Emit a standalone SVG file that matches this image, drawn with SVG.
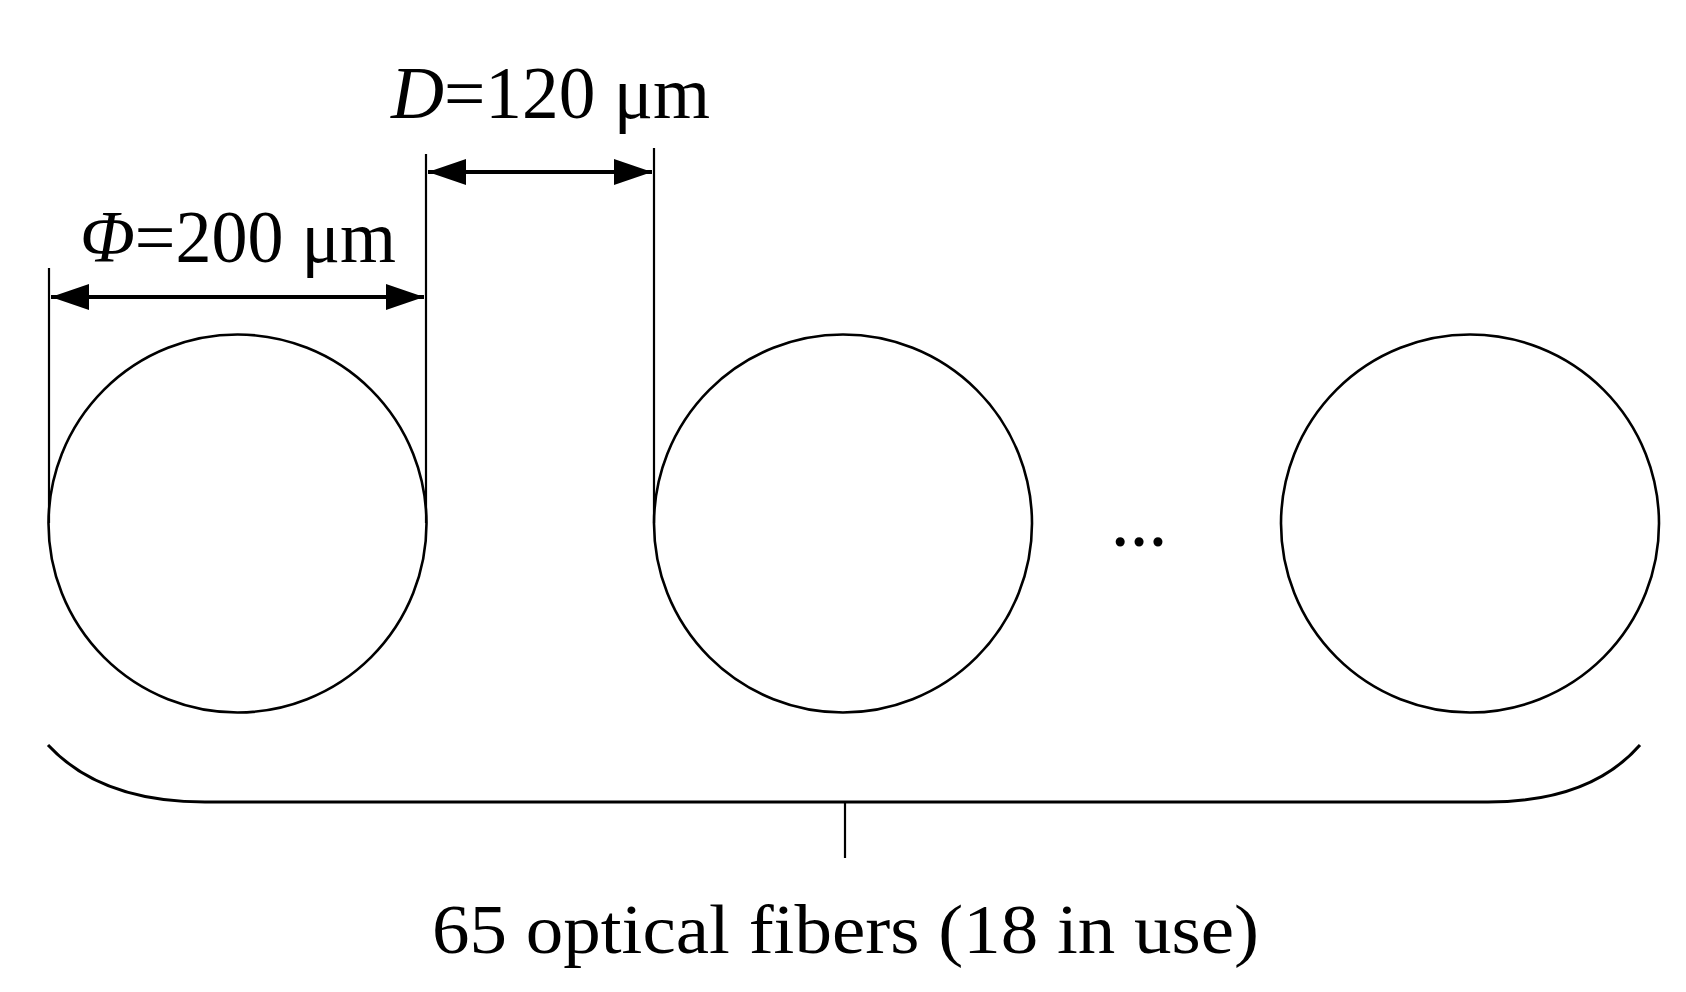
<svg xmlns="http://www.w3.org/2000/svg" width="1686" height="992" viewBox="0 0 1686 992">
<style>
.fiber{fill:none;stroke:#000;stroke-width:2.6}
.ext{stroke:#000;stroke-width:2.2;fill:none}
.dim{stroke:#000;stroke-width:4;fill:none}
.br{stroke:#000;stroke-width:3;fill:none}
.lbl{font-family:"Liberation Serif","Times New Roman",serif;fill:#000}
</style>
<defs>
<marker id="ah" viewBox="0 0 38 26" refX="38" refY="13" markerWidth="38" markerHeight="26" markerUnits="userSpaceOnUse" orient="auto-start-reverse">
<path d="M0,0 L38,13 L0,26 Z" fill="#000"/>
</marker>
</defs>
<rect width="1686" height="992" fill="#fff"/>
<g id="fiber1"><circle class="fiber" cx="237.5" cy="523.5" r="189"/></g>
<g id="fiber2"><circle class="fiber" cx="843" cy="523.5" r="189"/></g>
<g id="fiber3"><circle class="fiber" cx="1470" cy="523.5" r="189"/></g>
<g id="ellipsis"><text class="lbl" x="1139" y="546" font-size="56" font-weight="bold" text-anchor="middle">…</text></g>
<g id="connectors">
<line class="ext" x1="49" y1="268" x2="49" y2="523"/>
<line class="ext" x1="426" y1="154" x2="426" y2="523"/>
<line class="ext" x1="654" y1="148" x2="654" y2="523"/>
<line class="dim" x1="51" y1="297" x2="424" y2="297" marker-start="url(#ah)" marker-end="url(#ah)"/>
<line class="dim" x1="428" y1="172" x2="652" y2="172" marker-start="url(#ah)" marker-end="url(#ah)"/>
<path class="br" d="M48,745 C85,785 140,802 205,802 L1488,802 C1553,802 1605,785 1640,745"/>
<line class="ext" x1="845" y1="802" x2="845" y2="858"/>
</g>
<g id="label-phi"><text class="lbl" x="80" y="262" font-size="74" textLength="316" lengthAdjust="spacingAndGlyphs"><tspan font-style="italic">Φ</tspan>=200 μm</text></g>
<g id="label-d"><text class="lbl" x="391" y="118" font-size="74" textLength="319" lengthAdjust="spacingAndGlyphs"><tspan font-style="italic">D</tspan>=120 μm</text></g>
<g id="label-fibers"><text class="lbl" x="432" y="953" font-size="70" textLength="827" lengthAdjust="spacingAndGlyphs">65 optical fibers (18 in use)</text></g>
</svg>
